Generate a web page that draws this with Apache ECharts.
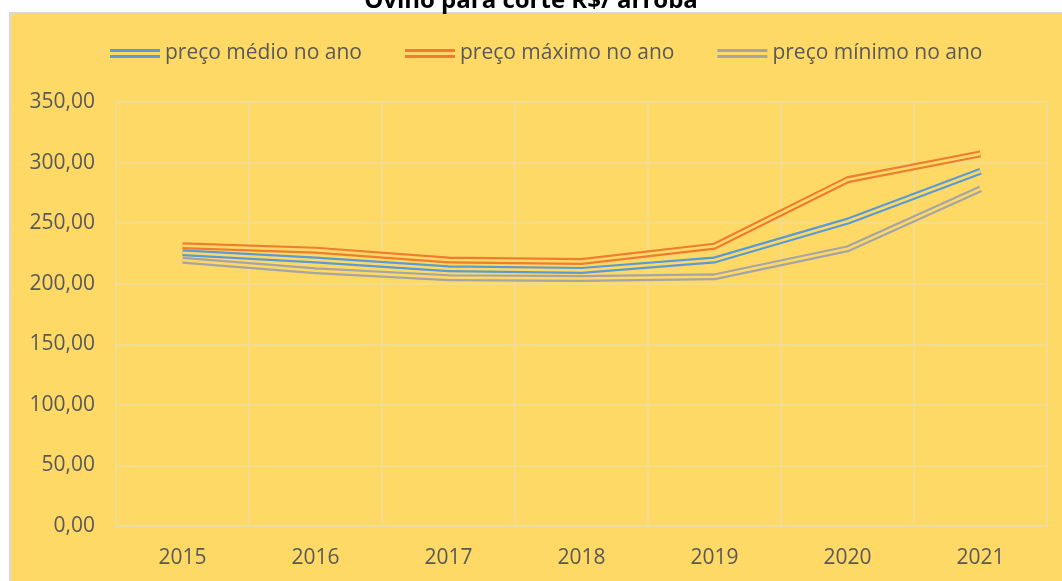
<!DOCTYPE html>
<html>
<head>
<meta charset="utf-8">
<script src="https://cdn.jsdelivr.net/npm/echarts@6/dist/echarts.min.js"></script>
<style>
  html, body { margin: 0; padding: 0; background: #ffffff; }
  .panel {
    position: absolute;
    left: 9px; top: 12px;
    width: 1060px; height: 575px;
    background: #FFD966;
    border: 2px solid #D9D9D9;
  }
  #chart { position: absolute; left: 0; top: 0; width: 1062px; height: 581px; }
</style>
</head>
<body>
<div class="panel"></div>
<div id="chart"></div>
<script>
// anos
var anos = ['2015', '2016', '2017', '2018', '2019', '2020', '2021']
// R$/arroba
var precoMedio = [225.5, 219.6, 212.3, 211.0, 219.6, 251.6, 292.9]
var precoMaximo = [231.3, 227.7, 219.6, 218.3, 231.0, 285.8, 307.2]
var precoMinimo = [219.4, 210.7, 205.0, 204.3, 205.7, 228.8, 278.3]
var nomes = ['preço médio no ano', 'preço máximo no ano', 'preço mínimo no ano']

var fundo = '#FFD966'
var cores = ['#5B9BD5', '#ED7D31', '#A5A5A5']
var fonte = 'Open Sans'
var duplo = 'path://M0,0H50V3H0Z M0,6H50V9H0Z'

function linhaDupla (nome, dados, cor) {
  // Excel "double" line: thick line with a background-coloured core
  return [
    {
      name: nome,
      type: 'line',
      data: dados,
      symbol: 'none',
      color: cor,
      lineStyle: { width: 7, color: cor },
      silent: true
    },
    {
      name: nome + '_gap',
      type: 'line',
      data: dados,
      symbol: 'none',
      color: fundo,
      lineStyle: { width: 2.6, color: fundo },
      silent: true
    }
  ]
}

var chart = echarts.init(document.getElementById('chart'))
chart.setOption({
  backgroundColor: 'transparent',
  animation: false,
  title: {
    text: 'Ovino para corte R$/ arroba',
    left: 'center',
    top: -16,
    textStyle: { fontFamily: fonte, fontSize: 24, fontWeight: 'bold', color: '#000000' }
  },
  legend: {
    data: nomes.map(function (n) { return { name: n, icon: duplo } }),
    top: 38,
    left: 105,
    itemWidth: 50,
    itemHeight: 9,
    itemGap: 43,
    textStyle: { fontFamily: fonte, fontSize: 21, color: '#595959' },
    selectedMode: false
  },
  grid: { left: 116, right: 15, top: 102, bottom: 55 },
  xAxis: {
    type: 'category',
    data: anos,
    boundaryGap: true,
    axisLine: { lineStyle: { color: '#E9DBA5', width: 1.5 } },
    axisTick: { show: false },
    splitLine: { show: true, lineStyle: { color: '#EEDC9C', width: 1.5 } },
    axisLabel: { fontFamily: fonte, fontSize: 21, color: '#595959', margin: 22 }
  },
  yAxis: {
    type: 'value',
    min: 0,
    max: 350,
    interval: 50,
    axisLine: { show: false },
    axisTick: { show: false },
    splitLine: { lineStyle: { color: '#EEDC9C', width: 1.5 } },
    axisLabel: {
      fontFamily: fonte,
      fontSize: 21,
      color: '#595959',
      margin: 21,
      formatter: function (v) { return v.toFixed(2).replace('.', ',') }
    }
  },
  series: [].concat(
    linhaDupla(nomes[0], precoMedio, cores[0]),
    linhaDupla(nomes[1], precoMaximo, cores[1]),
    linhaDupla(nomes[2], precoMinimo, cores[2])
  )
})
</script>
</body>
</html>
